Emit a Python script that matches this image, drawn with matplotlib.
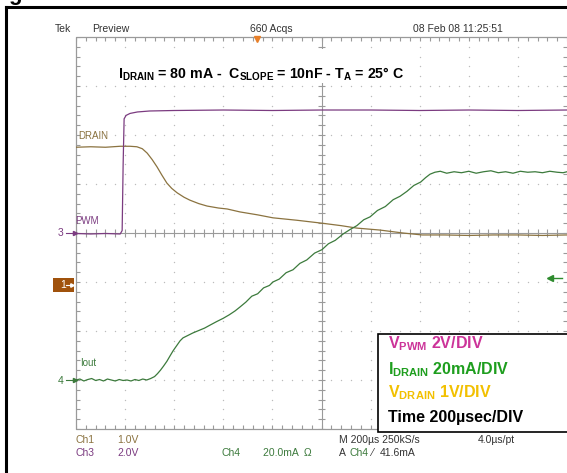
import matplotlib
matplotlib.use('Agg')
import matplotlib.pyplot as plt
import numpy as np
from matplotlib.collections import LineCollection
from matplotlib.patches import Rectangle
from matplotlib.lines import Line2D

plt.rcParams.update({
    'mathtext.fontset': 'custom',
    'mathtext.rm': 'Liberation Sans:bold',
    'mathtext.bf': 'Liberation Sans:bold',
    'mathtext.it': 'Liberation Sans:bold:italic',
})

# ---- traces, in screen divisions (x: 0..10 from left, y: -4..4 from centre)
pwm_x = [0, 0.3, 0.6, 0.9, 0.94, 0.96, 0.98, 1.02, 1.1, 1.25, 1.5, 2.0, 3.0, 4.0,
         5.0, 6.0, 7.0, 8.0, 9.0, 10.0]
pwm_y = [-0.01, -0.02, -0.01, -0.02, 0.05, 1.4, 2.33, 2.40, 2.44, 2.47, 2.49, 2.50,
         2.51, 2.50, 2.51, 2.51, 2.50, 2.51, 2.50, 2.51]

drain_x = [0, 0.3, 0.6, 0.9, 1.1, 1.24, 1.35, 1.45, 1.55, 1.65, 1.75, 1.85, 1.95,
           2.06, 2.2, 2.32, 2.5, 2.67, 2.9, 3.08, 3.34, 3.7, 4.01, 4.5, 5.01, 5.4,
           5.72, 6.19, 6.66, 7.05, 7.5, 8.0, 8.5, 9.0, 9.5, 10.0]
drain_y = [1.75, 1.76, 1.75, 1.77, 1.77, 1.76, 1.72, 1.63, 1.50, 1.35, 1.18, 1.02,
           0.91, 0.82, 0.73, 0.67, 0.60, 0.55, 0.51, 0.49, 0.43, 0.37, 0.31, 0.26,
           0.20, 0.15, 0.10, 0.06, 0.00, -0.04, -0.04, -0.05, -0.04, -0.04, -0.05, -0.04]

iout_x = [0, 0.08, 0.16, 0.24, 0.32, 0.40, 0.48, 0.56, 0.64, 0.72, 0.80, 0.88, 0.96,
          1.04, 1.12, 1.20, 1.28, 1.36, 1.44, 1.52, 1.60, 1.66, 1.72, 1.78, 1.85,
          1.92, 1.98, 2.05, 2.12, 2.18, 2.26, 2.38, 2.50, 2.62, 2.73, 2.86, 3.0,
          3.12, 3.24, 3.34, 3.46, 3.58, 3.70, 3.82, 3.94, 4.01, 4.14, 4.28, 4.42,
          4.56, 4.70, 4.86, 5.01, 5.14, 5.28, 5.44, 5.58, 5.72, 5.86, 5.99, 6.14,
          6.30, 6.46, 6.60, 6.74, 6.88, 7.02, 7.12, 7.21, 7.31, 7.42, 7.55, 7.70,
          7.85, 8.0, 8.15, 8.3, 8.45, 8.6, 8.75, 8.9, 9.05, 9.2, 9.35, 9.5, 9.65,
          9.8, 9.92, 10.0]
iout_y = [-3.00, -2.98, -3.02, -2.99, -2.97, -3.01, -2.99, -3.02, -2.98, -3.00,
          -3.02, -2.99, -3.01, -3.00, -3.02, -2.99, -3.01, -2.98, -3.00, -2.97,
          -2.93, -2.87, -2.80, -2.72, -2.62, -2.50, -2.40, -2.30, -2.20, -2.14,
          -2.10, -2.04, -1.99, -1.94, -1.88, -1.81, -1.74, -1.67, -1.59, -1.51,
          -1.41, -1.29, -1.24, -1.12, -1.07, -1.00, -0.94, -0.81, -0.75, -0.62,
          -0.55, -0.41, -0.34, -0.22, -0.15, -0.02, 0.07, 0.15, 0.27, 0.33, 0.46,
          0.54, 0.68, 0.75, 0.85, 0.97, 1.04, 1.13, 1.20, 1.24, 1.26, 1.22, 1.25,
          1.23, 1.26, 1.22, 1.25, 1.27, 1.23, 1.25, 1.22, 1.26, 1.24, 1.25, 1.23,
          1.26, 1.24, 1.23, 1.25]

legend_lines = [r'V$_{\mathbf{PWM}}$ 2V/DIV', r'I$_{\mathbf{DRAIN}}$ 20mA/DIV',
                r'V$_{\mathbf{DRAIN}}$ 1V/DIV', 'Time 200µsec/DIV']
legend_colors = ['#cc3399', '#1e9e1e', '#f2c000', 'black']

PURPLE = '#7b3b80'
BROWN = '#8b7340'
GREEN = '#3c7a3c'
GRID = '#bcbcbc'
AXC = '#9a9a9a'
NARROW = ['Liberation Sans Narrow', 'Liberation Sans', 'DejaVu Sans']

W, H = 567, 473
fig = plt.figure(figsize=(W / 100, H / 100), dpi=100)
fig.patch.set_facecolor('white')


def fx(px):
    return px / W


def fy(py):
    return 1 - py / H


ax = fig.add_axes([fx(76), fy(429), (567 - 76) / W, (429 - 37) / H])
ax.set_xlim(0, 10)
ax.set_ylim(-4, 4)
ax.axis('off')

# graticule
fine = np.arange(0, 10.001, 0.2)
fine_y = np.arange(-4, 4.001, 0.2)
for gx in [1, 2, 3, 4, 6, 7, 8, 9]:
    ax.scatter(np.full_like(fine_y, gx), fine_y, s=1.0, color=GRID, lw=0, zorder=1)
for gy in [-3, -2, -1, 1, 2, 3]:
    ax.scatter(fine, np.full_like(fine, gy), s=1.0, color=GRID, lw=0, zorder=1)

tx, ty = 0.08, 0.08
segs = []
for y in fine_y:
    segs += [[(5 - tx, y), (5 + tx, y)], [(0, y), (tx, y)], [(10, y), (10 - tx, y)]]
for x in fine:
    segs += [[(x, -ty), (x, ty)], [(x, 4), (x, 4 - ty)], [(x, -4), (x, -4 + ty)]]
ax.add_collection(LineCollection(segs, colors=AXC, linewidths=0.8, zorder=1))
ax.plot([5, 5], [-4, 4], color=AXC, lw=0.8, zorder=1)
ax.plot([0, 10], [0, 0], color=AXC, lw=0.8, zorder=1)
ax.plot([10, 0, 0, 10], [4, 4, -4, -4], color=AXC, lw=0.9, zorder=1, clip_on=False)

# traces
ax.plot(drain_x, drain_y, color=BROWN, lw=0.9, zorder=3)
ax.plot(iout_x, iout_y, color=GREEN, lw=0.9, zorder=3)
ax.plot(pwm_x, pwm_y, color=PURPLE, lw=0.9, zorder=4)

# channel markers
ax.plot([-0.2, -0.03], [0, 0], color=PURPLE, lw=0.8, clip_on=False)
ax.plot([-0.03], [0], marker='>', ms=3, color=PURPLE, clip_on=False)
ax.plot([-0.2, -0.03], [-3.0, -3.0], color=GREEN, lw=0.8, clip_on=False)
ax.plot([-0.03], [-3.0], marker='>', ms=3, color=GREEN, clip_on=False)
ax.add_patch(Rectangle((-0.47, -1.2), 0.42, 0.29, facecolor='#a0520c',
                       edgecolor='none', clip_on=False, zorder=5))
ax.text(-0.27, -1.06, '1', color='white', fontsize=7.5, family=NARROW,
        ha='center', va='center', zorder=6, clip_on=False)
ax.plot([-0.2, -0.08], [-1.06, -1.06], color='white', lw=0.8, zorder=6, clip_on=False)
ax.plot([-0.08], [-1.06], marker='>', ms=2.5, color='white', zorder=6, clip_on=False)
ax.plot([3.69], [3.95], marker='v', ms=5, color='#e8802a', clip_on=False, zorder=5)
ax.plot([9.66, 9.9], [-0.92, -0.92], color='#2e8b2e', lw=1.0, clip_on=False)
ax.plot([9.66], [-0.92], marker='<', ms=4, color='#2e8b2e', clip_on=False)

ax.text(0.05, 1.98, 'DRAIN', color=BROWN, fontsize=7, family=NARROW, va='center')
ax.text(-0.02, 0.25, 'PWM', color=PURPLE, fontsize=7, family=NARROW, va='center')
ax.text(0.08, -2.65, 'Iout', color=GREEN, fontsize=7, family=NARROW, va='center')
fig.text(fx(61), fy(233), '3', color=PURPLE, fontsize=7.5, family=NARROW,
         ha='center', va='center')
fig.text(fx(61), fy(381), '4', color=GREEN, fontsize=7.5, family=NARROW,
         ha='center', va='center')

# outer frame and clipped caption remnant
fig.add_artist(Line2D([fx(6), fx(6)], [0, fy(7)], color='black', lw=2.2))
fig.add_artist(Line2D([fx(6), 1], [fy(7), fy(7)], color='black', lw=2.2))
fig.text(fx(8), fy(0), 'g', fontsize=16, fontweight='bold', va='baseline',
         family='Liberation Sans')

# header
hdr = dict(fontsize=7.5, family=NARROW, va='center', color='#333333')
fig.text(fx(55), fy(29), 'Tek', **hdr)
fig.text(fx(92), fy(29), 'Preview', **hdr)
fig.text(fx(250), fy(29), '660 Acqs', **hdr)
fig.text(fx(413), fy(29), '08 Feb 08 11:25:51', **hdr)

# title, on a white patch that masks the graticule behind it
fig.add_artist(Rectangle((fx(112), fy(83)), (412 - 112) / W, (83 - 49) / H,
                         transform=fig.transFigure, facecolor='white',
                         edgecolor='none', zorder=2))
fig.text(fx(118), fy(79),
         r'I$_{\mathbf{DRAIN}}$ = 80 mA -  C$_{\mathbf{SLOPE}}$ = 10nF - T$_{\mathbf{A}}$ = 25° C',
         fontsize=10.2, fontweight='bold', family='Liberation Sans', va='baseline',
         zorder=3)

# legend box
fig.add_artist(Rectangle((fx(378), fy(432)), (575 - 378) / W, (432 - 334) / H,
                         transform=fig.transFigure, facecolor='white',
                         edgecolor='black', lw=1.2, zorder=5))
for txt, col, yb in zip(legend_lines, legend_colors, [348, 374, 397, 422]):
    fig.text(fx(388), fy(yb), txt, color=col, fontsize=11.5, fontweight='bold',
             family='Liberation Sans', va='baseline', zorder=6)

# bottom readout
bot = dict(fontsize=7.5, family=NARROW, va='center')
fig.text(fx(75), fy(440), 'Ch1', color=BROWN, **bot)
fig.text(fx(117), fy(440), '1.0V', color=BROWN, **bot)
fig.text(fx(75), fy(453), 'Ch3', color=PURPLE, **bot)
fig.text(fx(117), fy(453), '2.0V', color=PURPLE, **bot)
fig.text(fx(222), fy(453), 'Ch4', color=GREEN, **bot)
fig.text(fx(263), fy(453), '20.0mA  Ω', color=GREEN, **bot)
fig.text(fx(339), fy(440), 'M 200µs 250kS/s', color='#333333', **bot)
fig.text(fx(478), fy(440), '4.0µs/pt', color='#333333', **bot)
fig.text(fx(339), fy(453), 'A', color='#333333', **bot)
fig.text(fx(350), fy(453), 'Ch4', color=GREEN, **bot)
fig.text(fx(371), fy(453), '⁄', color='#333333', **bot)
fig.text(fx(380), fy(453), '41.6mA', color='#333333', **bot)

fig.savefig('out.png', dpi=100, facecolor='white')
